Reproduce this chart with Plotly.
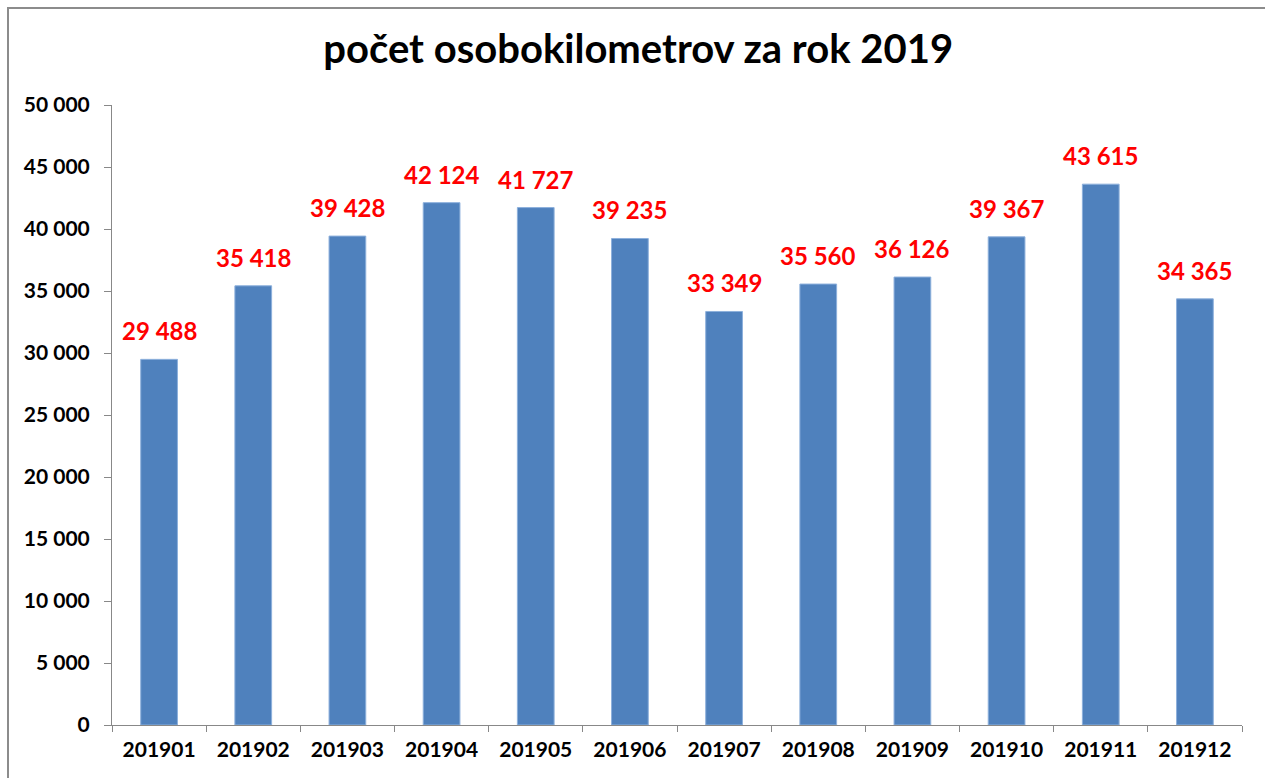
import plotly.graph_objects as go

months = ["201901", "201902", "201903", "201904", "201905", "201906",
          "201907", "201908", "201909", "201910", "201911", "201912"]
values = [29488, 35418, 39428, 42124, 41727, 39235,
          33349, 35560, 36126, 39367, 43615, 34365]
y_ticks = list(range(0, 50001, 5000))

FONT = "Lato"

def fmt(v):
    return f"{v:,}".replace(",", " ")

fig = go.Figure()
fig.add_trace(go.Bar(
    x=months, y=values,
    marker=dict(color="#4F81BD", line=dict(color="#8DB0DC", width=1)),
    width=0.39,
    hoverinfo="x+y",
))

for i, v in enumerate(values):
    fig.add_annotation(x=i, y=v, text=fmt(v), showarrow=False,
                       yanchor="bottom", yshift=12,
                       font=dict(family=FONT, size=24, color="#FF0000", weight="bold"))

fig.update_layout(
    width=1265, height=778,
    margin=dict(l=112, r=23, t=105, b=53, autoexpand=False),
    paper_bgcolor="white", plot_bgcolor="white",
    showlegend=False,
    title=dict(text="<b>počet osobokilometrov za rok 2019</b>", x=0.5045, xanchor="center",
               y=0.937, yanchor="middle",
               font=dict(family=FONT, size=40, color="black")),
    xaxis=dict(type="category", range=[-0.5, 11.5], showgrid=False, showline=True,
               linecolor="#888888", automargin=False, tickangle=0,
               linewidth=1, ticks="outside", ticklen=6, tickcolor="#888888",
               tickson="boundaries", ticklabelstandoff=6,
               tickfont=dict(family=FONT, size=21, color="black", weight="bold")),
    yaxis=dict(range=[0, 50000], tickvals=y_ticks, ticktext=[fmt(t) for t in y_ticks],
               showgrid=False, showline=True, linecolor="#888888", automargin=False,
               linewidth=1, ticks="outside", ticklen=7, tickcolor="#888888",
               zeroline=False, ticklabelstandoff=10,
               tickfont=dict(family=FONT, size=21, color="black", weight="bold")),
    shapes=[dict(type="rect", xref="paper", yref="paper",
                 x0=(8 - 112) / 1130, x1=3, y0=-3, y1=(725 - 8) / 620,
                 line=dict(color="#8C8C8C", width=2), fillcolor="rgba(0,0,0,0)",
                 layer="below")],
)

fig.write_html("out.html", config={"displayModeBar": False},
               post_script="document.body.style.margin='0';document.body.style.overflow='hidden';")
